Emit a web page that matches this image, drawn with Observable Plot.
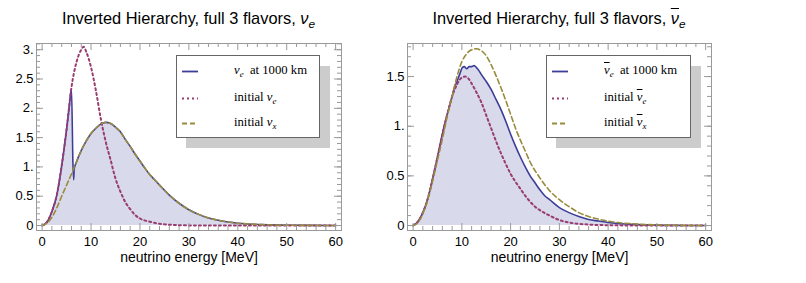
<!DOCTYPE html>
<html><head><meta charset="utf-8">
<script src="https://cdn.jsdelivr.net/npm/d3@7"></script>
<script src="https://cdn.jsdelivr.net/npm/@observablehq/plot@0.6"></script>
<style>
body{margin:0;background:#fff;width:806px;height:283px;overflow:hidden;position:relative;font-family:"Liberation Sans",Arial,sans-serif;}
.title{position:absolute;top:10px;font-size:16.4px;line-height:16px;text-align:center;white-space:nowrap;color:#000;}
.title .nu{font-style:italic;}
.title sub{font-size:0.72em;font-style:italic;vertical-align:-0.3em;line-height:0;}
.ov{text-decoration:overline;}
.panel{position:absolute;top:34px;}
.shadow{position:absolute;background:#cccccc;}
.legend{position:absolute;background:#fff;border:1px solid #666;box-sizing:border-box;font-family:"Liberation Serif","Times New Roman",serif;font-size:12.7px;color:#000;}
.row{position:absolute;left:0;height:14px;width:100%;}
.row svg{position:absolute;left:5px;top:6px;}
.row .lbl{position:absolute;left:57px;top:-1px;white-space:nowrap;line-height:14px;}
.lbl i{font-style:italic;}
.lbl sub{font-size:0.7em;font-style:italic;vertical-align:-0.3em;line-height:0;}
</style></head>
<body>
<div class="title" style="left:36px;width:305px;"><span class="tt">Inverted Hierarchy, full 3 flavors, <span class="nu">ν</span><sub>e</sub></span></div>
<div class="title" style="left:407px;width:304px;"><span class="tt">Inverted Hierarchy, full 3 flavors, <span class="nu ov">ν</span><sub>e</sub></span></div>
<div id="left" class="panel" style="left:0px;"></div>
<div id="right" class="panel" style="left:360px;"></div>

<div class="shadow" style="left:186px;top:66px;width:144px;height:82px;"></div>
<div class="legend" style="left:176px;top:55px;width:144px;height:83px;">
  <div class="row" style="top:7.5px;"><svg width="16" height="3"><line x1="0" x2="16" y1="1.5" y2="1.5" stroke="rgb(61,61,153)" stroke-width="1.8"/></svg><span class="lbl"><i>ν</i><sub>e</sub>&nbsp; at 1000 km</span></div>
  <div class="row" style="top:34.5px;"><svg width="16" height="3"><line x1="0" x2="16" y1="1.5" y2="1.5" stroke="rgb(153,61,113)" stroke-width="2" stroke-dasharray="2 3"/></svg><span class="lbl">initial <i>ν</i><sub>e</sub></span></div>
  <div class="row" style="top:59.5px;"><svg width="16" height="3"><line x1="0" x2="16" y1="1.5" y2="1.5" stroke="rgb(153,139,61)" stroke-width="1.8" stroke-dasharray="5 3"/></svg><span class="lbl">initial <i>ν</i><sub>x</sub></span></div>
</div>

<div class="shadow" style="left:556px;top:66px;width:145px;height:82px;"></div>
<div class="legend" style="left:546px;top:55px;width:145px;height:83px;">
  <div class="row" style="top:7.5px;"><svg width="16" height="3"><line x1="0" x2="16" y1="1.5" y2="1.5" stroke="rgb(61,61,153)" stroke-width="1.8"/></svg><span class="lbl"><i class="ov">ν</i><sub>e</sub>&nbsp; at 1000 km</span></div>
  <div class="row" style="top:34.5px;"><svg width="16" height="3"><line x1="0" x2="16" y1="1.5" y2="1.5" stroke="rgb(153,61,113)" stroke-width="2" stroke-dasharray="2 3"/></svg><span class="lbl">initial <i class="ov">ν</i><sub>e</sub></span></div>
  <div class="row" style="top:59.5px;"><svg width="16" height="3"><line x1="0" x2="16" y1="1.5" y2="1.5" stroke="rgb(153,139,61)" stroke-width="1.8" stroke-dasharray="5 3"/></svg><span class="lbl">initial <i class="ov">ν</i><sub>x</sub></span></div>
</div>

<script>
// ---------- data ----------
// Left panel: neutrinos
const leftNuEInitE = [0,1,2,3,4,5,6,7,8,8.5,9,10,11,12,13,14,15,16,17,18,19,20,22,24,26,28,30,35,40,50,60];
const leftNuEInitV = [0,0.06,0.24,0.52,1.02,1.64,2.36,2.78,3.0,3.05,2.97,2.7,2.3,1.82,1.43,1.12,0.8,0.58,0.4,0.28,0.18,0.12,0.065,0.03,0.014,0.006,0.002,0,0,0,0];

const leftNuXInitE = [0,1,2,3,4,5,6,7,8,9,10,11,12,13,14,15,16,17,18,19,20,21,22,23,24,26,28,30,32,34,36,38,40,42,45,50,55,60];
const leftNuXInitV = [0,0.04,0.14,0.3,0.5,0.69,0.88,1.08,1.28,1.44,1.57,1.66,1.73,1.76,1.74,1.68,1.6,1.47,1.35,1.22,1.1,0.98,0.87,0.78,0.69,0.52,0.38,0.27,0.19,0.13,0.09,0.06,0.04,0.027,0.015,0.005,0.002,0];

const leftNuEFinalE = [0,1,2,3,4,5,5.5,6,6.3,6.45,6.55,7,8,9,10,11,12,13,14,15,16,17,18,19,20,21,22,23,24,26,28,30,32,34,36,38,40,42,45,50,55,60];
const leftNuEFinalV = [0,0.06,0.24,0.52,1.02,1.64,2.0,2.33,1.05,0.78,0.96,1.08,1.28,1.44,1.57,1.66,1.73,1.76,1.74,1.68,1.6,1.47,1.35,1.22,1.1,0.98,0.87,0.78,0.69,0.52,0.38,0.27,0.19,0.13,0.09,0.06,0.04,0.027,0.015,0.005,0.002,0];

// Right panel: antineutrinos
const rightNuEInitE = [0,1,2,3,4,5,6,7,8,9,10,10.7,11.5,12,13,14,15,16,17,18,19,20,21,22,23,24,25,26,27,28,30,32,34,36,40,45,50,60];
const rightNuEInitV = [0,0.04,0.13,0.27,0.47,0.69,0.92,1.12,1.3,1.42,1.49,1.5,1.47,1.43,1.34,1.24,1.11,0.98,0.85,0.73,0.62,0.52,0.44,0.37,0.3,0.24,0.19,0.155,0.125,0.1,0.055,0.03,0.017,0.01,0.003,0.001,0,0];

const rightNuXInitE = [0,1,2,3,4,5,6,7,8,9,10,11,12,13,14,15,16,17,18,19,20,21,22,23,24,26,28,30,32,34,36,38,40,42,45,50,55,60];
const rightNuXInitV = [0,0.03,0.12,0.26,0.45,0.66,0.87,1.1,1.3,1.5,1.65,1.73,1.77,1.78,1.76,1.71,1.62,1.51,1.39,1.26,1.12,0.98,0.86,0.75,0.64,0.48,0.35,0.26,0.19,0.13,0.09,0.065,0.045,0.03,0.018,0.006,0.002,0];

const rightNuEFinalE = [0,1,2,3,4,5,6,7,8,8.4,9,9.6,10.1,10.5,11,11.5,12,12.5,13,13.5,14,15,16,17,18,19,20,21,22,23,24,25,26,27,28,30,32,34,36,38,40,42,45,50,55,60];
const rightNuEFinalV = [0,0.04,0.13,0.27,0.47,0.69,0.92,1.12,1.3,1.38,1.45,1.53,1.59,1.6,1.58,1.6,1.6,1.61,1.59,1.56,1.52,1.45,1.37,1.27,1.17,1.05,0.92,0.8,0.69,0.59,0.5,0.43,0.36,0.3,0.26,0.18,0.13,0.09,0.06,0.045,0.03,0.02,0.012,0.004,0.001,0];

// ticks
const xTicks = [0,10,20,30,40,50,60];
const xTickLabels = ["0","10","20","30","40","50","60"];
const leftYTicks = [0,0.5,1,1.5,2,2.5,3];
const leftYTickLabels = ["0","0.5","1.","1.5","2.","2.5","3."];
const rightYTicks = [0,0.5,1,1.5];
const rightYTickLabels = ["0","0.5","1.","1.5"];
const xAxisLabel = "neutrino energy [MeV]";

// ---------- drawing ----------
const rows = (E, V) => E.map((e, i) => ({e, v: V[i]}));
const C_BLUE = "rgb(61,61,153)", C_RED = "rgb(153,61,113)", C_YEL = "rgb(153,139,61)";
const C_FILL = "rgb(217,217,236)", C_FRAME = "#9a9a9a";

function panel({width, marginLeft, marginRight, yDomain, yTicks, yLabels, final, nue, nux}) {
  const H = 249, mt = 9, mb = 53;
  const fw = width - marginLeft - marginRight, fh = H - mt - mb;
  const xMinor = d3.range(0, 61, 2).filter(d => d % 10 !== 0);
  const yMinor = d3.range(0, Math.round(yDomain[1] * 10) + 1).map(i => i / 10).filter(d => d <= yDomain[1]);
  const tickMaj = 7, tickMin = 4;
  const xl = xTicks.map((d, i) => ({d, t: xTickLabels[i]}));
  const yl = yTicks.map((d, i) => ({d, t: yLabels[i]}));
  return Plot.plot({
    width, height: H, marginTop: mt, marginBottom: mb, marginLeft, marginRight,
    x: {domain: [-1.15, 61.2], axis: null},
    y: {domain: yDomain, axis: null},
    style: {fontFamily: "'Liberation Sans', Arial, sans-serif", fontSize: "13px", overflow: "visible", background: "transparent"},
    marks: [
      Plot.areaY(final, {x: "e", y: "v", fill: C_FILL, curve: "monotone-x"}),
      Plot.line(final, {x: "e", y: "v", stroke: C_BLUE, strokeWidth: 1.6, curve: "monotone-x"}),
      Plot.line(nue, {x: "e", y: "v", stroke: C_RED, strokeWidth: 2, strokeDasharray: "2 3", curve: "monotone-x"}),
      Plot.line(nux, {x: "e", y: "v", stroke: C_YEL, strokeWidth: 1.6, strokeDasharray: "5 3", curve: "monotone-x"}),
      Plot.frame({stroke: C_FRAME}),
      Plot.tickX(xTicks, {x: d => d, insetTop: fh - tickMaj, stroke: C_FRAME}),
      Plot.tickX(xTicks, {x: d => d, insetBottom: fh - tickMaj, stroke: C_FRAME}),
      Plot.tickX(xMinor, {x: d => d, insetTop: fh - tickMin, stroke: C_FRAME}),
      Plot.tickX(xMinor, {x: d => d, insetBottom: fh - tickMin, stroke: C_FRAME}),
      Plot.tickY(yTicks, {y: d => d, insetRight: fw - tickMaj, stroke: C_FRAME}),
      Plot.tickY(yTicks, {y: d => d, insetLeft: fw - tickMaj, stroke: C_FRAME}),
      Plot.tickY(yMinor, {y: d => d, insetRight: fw - tickMin, stroke: C_FRAME}),
      Plot.tickY(yMinor, {y: d => d, insetLeft: fw - tickMin, stroke: C_FRAME}),
      Plot.text(xl, {x: "d", text: "t", frameAnchor: "bottom", dy: 6, lineAnchor: "top", fill: "#000"}),
      Plot.text(yl, {y: "d", text: "t", frameAnchor: "left", dx: -3, textAnchor: "end", fill: "#000"}),
      Plot.text([xAxisLabel], {text: d => d, frameAnchor: "bottom", dy: 27, lineAnchor: "middle", fontSize: 14, fill: "#000"})
    ]
  });
}

document.getElementById("left").appendChild(panel({
  width: 360, marginLeft: 36, marginRight: 19,
  yDomain: [-0.085, 3.106], yTicks: leftYTicks, yLabels: leftYTickLabels,
  final: rows(leftNuEFinalE, leftNuEFinalV), nue: rows(leftNuEInitE, leftNuEInitV), nux: rows(leftNuXInitE, leftNuXInitV)
}));
document.getElementById("right").appendChild(panel({
  width: 446, marginLeft: 47, marginRight: 95,
  yDomain: [-0.05, 1.833], yTicks: rightYTicks, yLabels: rightYTickLabels,
  final: rows(rightNuEFinalE, rightNuEFinalV), nue: rows(rightNuEInitE, rightNuEInitV), nux: rows(rightNuXInitE, rightNuXInitV)
}));
</script>
</body></html>
